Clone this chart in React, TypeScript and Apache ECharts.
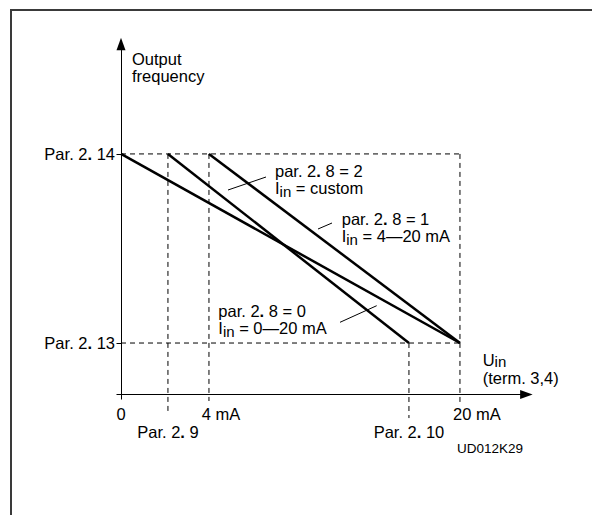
import React, { useEffect, useRef } from "react";
import * as echarts from "echarts";

const FONT = "'Liberation Sans', Arial, Helvetica, sans-serif";

// Schematic axis units: x in "mA-like" units (20 = 20 mA), y with Par. 2.14 = 100
const xMax = 23.92;
const yMax = 145.7;

const xTickValues = [0, 5.19, 20];
const xTickLabels = ["0", "4 mA", "20 mA"];
const xParValues = [2.77, 16.99];
const xParLabels = ["Par. 2. 9", "Par. 2. 10"];
const yParValues = [21.4, 100];
const yParLabels = ["Par. 2. 13", "Par. 2. 14"];

const curveNames = ["par. 2. 8 = 0", "par. 2. 8 = 1", "par. 2. 8 = 2"];
const curve0 = [[0, 100], [20, 21.4]];
const curve1 = [[5.19, 100], [20, 21.4]];
const curve2 = [[2.77, 100], [16.99, 21.4]];

const guideTop = [[0, 100], [20, 100]];
const guideBottom = [[0, 21.4], [20, 21.4]];
const guidePar29 = [[2.77, 100], [2.77, -8.5]];
const guide4mA = [[5.19, 100], [5.19, -2.7]];
const guidePar210 = [[16.99, 21.4], [16.99, -9.8]];
const guide20mA = [[20, 100], [20, -4.4]];

const annotationTexts = [
  "par. 2{b|.} 8 = 2\nI{sub|in} = custom",
  "par. 2{b|.} 8 = 1\nI{sub|in} = 4\u201420 mA",
  "par. 2{b|.} 8 = 0\nI{sub|in} = 0\u201420 mA",
];

const pick = (vals: number[], labels: string[], v: number) => {
  let best = 0;
  for (let i = 1; i < vals.length; i++) {
    if (Math.abs(vals[i] - v) < Math.abs(vals[best] - v)) best = i;
  }
  return labels[best];
};
const boldDot = (s: string) => s.replace(/2\. /, "2{b|.} ");

export default function App() {
  const ref = useRef<HTMLDivElement>(null);
  useEffect(() => {
    if (!ref.current) return;
    const chart = echarts.init(ref.current, undefined, { renderer: "svg" });
    const FS = 16.5;
    const LH = 17.5;
    const base = { fontFamily: FONT, fontSize: FS, color: "#000" };
    const rich = {
      b: { ...base, fontWeight: "bold" },
      sub: { ...base, fontSize: 15, padding: [6, 0, 0, 0], lineHeight: LH },
      s4: { ...base, padding: [0, 0, 0, 24] },
      s20: { ...base, padding: [0, 0, 0, 34] },
    };
    const nameRich = {
      sub: { ...base, fontSize: 15, padding: [4, 0, 0, 0], lineHeight: 18.5 },
    };
    const dashed = { color: "#000", width: 1, type: [5, 4] };
    const solid = { color: "#000", width: 2.5 };
    const mkLine = (name: string, data: number[][], style: any) => ({
      name,
      type: "line",
      data,
      symbol: "none",
      clip: false,
      silent: true,
      lineStyle: style,
      z: style === solid ? 3 : 2,
    });
    const annText = (t: string, x: number, y: number) => ({
      type: "text",
      x,
      y,
      style: {
        text: t,
        ...base,
        fill: "#000",
        lineHeight: LH,
        align: "left",
        verticalAlign: "top",
        rich,
      },
    });
    const leader = (x1: number, y1: number, x2: number, y2: number) => ({
      type: "line",
      shape: { x1, y1, x2, y2 },
      style: { stroke: "#000", lineWidth: 1 },
    });
    chart.setOption({
      animation: false,
      backgroundColor: "#fff",
      grid: { left: 121, top: 44, right: 65.6, bottom: 120.5 },
      xAxis: [
        {
          type: "value",
          min: 0,
          max: xMax,
          name: "U{sub|in}\n(term. 3,4)",
          nameLocation: "end",
          nameGap: -43.7,
          nameTextStyle: {
            ...base,
            align: "left",
            verticalAlign: "bottom",
            lineHeight: 18.5,
            padding: [0, 0, 7.2, 0],
            rich: nameRich,
          },
          axisLine: {
            show: true,
            symbol: ["none", "triangle"],
            symbolSize: [9, 12.5],
            lineStyle: { color: "#000", width: 1 },
          },
          axisTick: { show: true, customValues: [0], length: 5, lineStyle: { color: "#000" } },
          axisLabel: {
            customValues: xTickValues,
            margin: 11,
            ...base,
            formatter: (v: number) => {
              const l = pick(xTickValues, xTickLabels, v);
              if (l === "4 mA") return "{s4|4 mA}";
              if (l === "20 mA") return "{s20|20 mA}";
              return l;
            },
            rich,
          },
          splitLine: { show: false },
        },
        {
          type: "value",
          min: 0,
          max: xMax,
          position: "bottom",
          offset: 18,
          axisLine: { show: false },
          axisTick: { show: false },
          axisLabel: {
            customValues: xParValues,
            margin: 11,
            ...base,
            formatter: (v: number) => boldDot(pick(xParValues, xParLabels, v)),
            rich,
          },
          splitLine: { show: false },
        },
      ],
      yAxis: {
        type: "value",
        min: 0,
        max: yMax,
        name: "Output\nfrequency",
        nameLocation: "end",
        nameGap: -6.2,
        nameTextStyle: {
          ...base,
          align: "left",
          verticalAlign: "top",
          lineHeight: LH,
          padding: [0, 0, 0, 11],
        },
        axisLine: {
          show: true,
          symbol: ["none", "triangle"],
          symbolSize: [9, 12.5],
          lineStyle: { color: "#000", width: 1 },
        },
        axisTick: {
          show: true,
          customValues: [0, ...yParValues],
          length: 4.5,
          lineStyle: { color: "#000" },
        },
        axisLabel: {
          customValues: yParValues,
          margin: 6,
          ...base,
          formatter: (v: number) => boldDot(pick(yParValues, yParLabels, v)),
          rich,
        },
        splitLine: { show: false },
      },
      series: [
        mkLine("guide top", guideTop, dashed),
        mkLine("guide bottom", guideBottom, dashed),
        mkLine("guide par 2.9", guidePar29, dashed),
        mkLine("guide 4 mA", guide4mA, dashed),
        mkLine("guide par 2.10", guidePar210, dashed),
        mkLine("guide 20 mA", guide20mA, dashed),
        mkLine(curveNames[0], curve0, solid),
        mkLine(curveNames[1], curve1, solid),
        mkLine(curveNames[2], curve2, solid),
      ],
      graphic: [
        { type: "line", shape: { x1: 10, y1: 10, x2: 592, y2: 10 }, style: { stroke: "#3a3a3a", lineWidth: 2 } },
        { type: "line", shape: { x1: 11, y1: 9, x2: 11, y2: 515 }, style: { stroke: "#3a3a3a", lineWidth: 2 } },
        annText(annotationTexts[0], 275, 162),
        annText(annotationTexts[1], 341.7, 210.2),
        annText(annotationTexts[2], 218.3, 302),
        leader(228, 190, 266, 177),
        leader(318, 229, 332, 223),
        leader(340, 322.3, 376.7, 305.7),
        {
          type: "text",
          x: 457,
          y: 448.7,
          style: {
            text: "UD012K29",
            fontFamily: FONT,
            fontSize: 13.5,
            fill: "#000",
            align: "left",
            verticalAlign: "middle",
          },
        },
      ],
    });
    return () => chart.dispose();
  }, []);
  return (
    <div
      ref={ref}
      style={{ position: "fixed", left: 0, top: 0, width: 592, height: 515, background: "#fff" }}
    />
  );
}
